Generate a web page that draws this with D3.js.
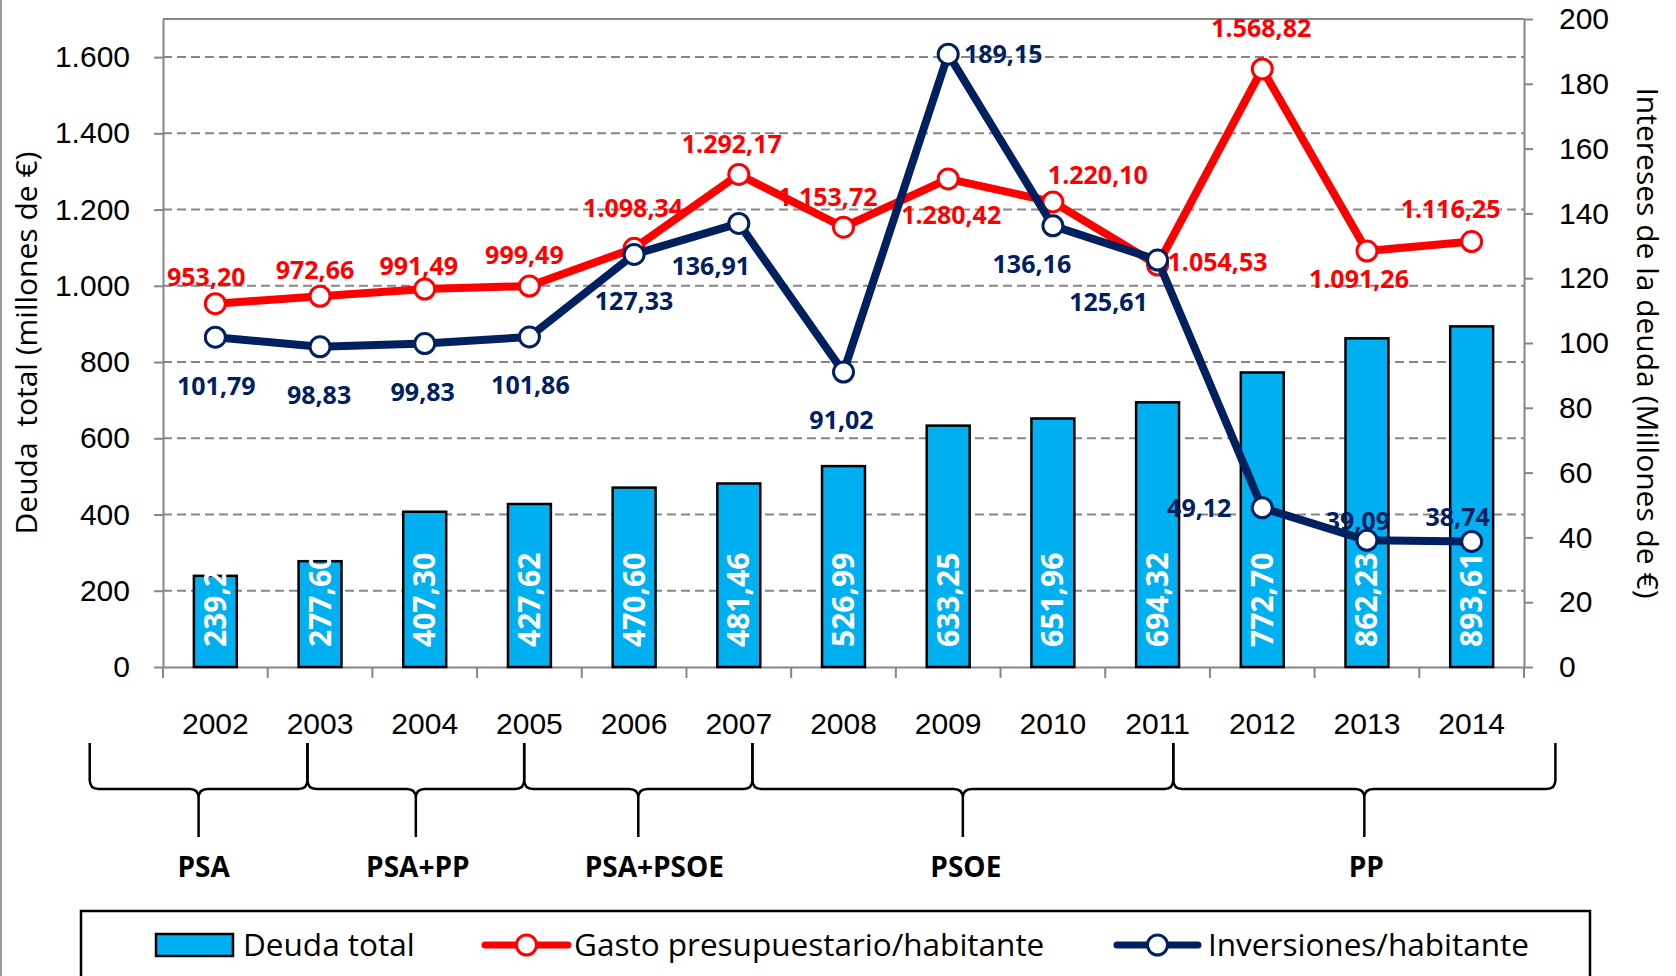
<!DOCTYPE html>
<html>
<head>
<meta charset="utf-8">
<script src="https://cdn.jsdelivr.net/npm/d3@7"></script>
<style>
    body { margin: 0; background: #fff; }
    svg { display: block; font-family: 'Open Sans', 'Noto Sans', sans-serif; }
</style>
</head>
<body>
<div class="chart"></div>
<script>
'use strict'

// Data.
const years = ['2002', '2003', '2004', '2005', '2006', '2007', '2008', '2009', '2010', '2011', '2012', '2013', '2014'];
const deudaTotal = [239.20, 277.60, 407.30, 427.62, 470.60, 481.46, 526.99, 633.25, 651.96, 694.32, 772.70, 862.23, 893.61];
const gastoHabitante = [953.20, 972.66, 991.49, 999.49, 1098.34, 1292.17, 1153.72, 1280.42, 1220.10, 1054.53, 1568.82, 1091.26, 1116.25];
const inversionesHabitante = [101.79, 98.83, 99.83, 101.86, 127.33, 136.91, 91.02, 189.15, 136.16, 125.61, 49.12, 39.09, 38.74];

const leftTicks = [0, 200, 400, 600, 800, 1000, 1200, 1400, 1600];
const rightTicks = [0, 20, 40, 60, 80, 100, 120, 140, 160, 180, 200];

// Governing parties and the (fractional) years each brace spans.
const parties = ['PSA', 'PSA+PP', 'PSA+PSOE', 'PSOE', 'PP'];
const partyFrom = [2000.8, 2002.88, 2004.95, 2007.13, 2011.15];
const partyTo = [2002.88, 2004.95, 2007.13, 2011.15, 2014.8];

// Label placement, px offset from each marker (hand placed in the original).
const gastoLabelOffset = [[-9, -27], [-5, -26], [-6, -23], [-5, -31], [-1, -40], [-7, -30], [-16, -30],
    [3, 36], [45, -27], [60, -3], [-1, -41], [-8, 28], [-21, -33]];
const invLabelOffset = [[1, 49], [-1, 48], [-2, 48], [1, 48], [0, 47], [-28, 43], [-2, 48],
    [55, 0], [-21, 38], [-49, 42], [-63, 0], [-9, -19], [-14, -24]];
const partyLabelShift = [5, 2, 16, 3, 2];

// Dimensions.
let width = 1676,
    height = 976,
    margin = {top: 19, right: 152, bottom: 309, left: 163};

const plotBottom = height - margin.bottom,
    plotRight = width - margin.right,
    grey = '#868686',
    red = '#ff0000',
    navy = '#002060',
    cyan = '#00b0f0';

const es = d3.formatLocale({decimal: ',', thousands: '.', grouping: [3], currency: ['', ' €']});
const fmtInt = es.format(',d'),
    fmt2 = es.format(',.2f');

let svg = d3.select('.chart')
    .append('svg')
        .attr('width', width)
        .attr('height', height);

// Scales.
let x = d3.scaleBand()
    .domain(years)
    .range([margin.left, plotRight]);
const xc = d => x(d) + x.bandwidth() / 2;

let yL = d3.scaleLinear()
    .domain([0, 1700])
    .range([plotBottom, margin.top]);

let yR = d3.scaleLinear()
    .domain([0, 200])
    .range([plotBottom, margin.top]);

let yearX = d3.scaleLinear()
    .domain([2002, 2014])
    .range([xc('2002'), xc('2014')]);

// Image border on the left.
svg.append('line')
    .attr('x1', 1).attr('x2', 1)
    .attr('y1', 0).attr('y2', height)
    .attr('stroke', '#9a9a9a')
    .attr('stroke-width', 2);

// Gridlines.
svg.append('g')
    .selectAll('line')
    .data(leftTicks.filter(d => d > 0))
    .join('line')
        .attr('x1', margin.left)
        .attr('x2', plotRight)
        .attr('y1', d => yL(d))
        .attr('y2', d => yL(d))
        .attr('stroke', grey)
        .attr('stroke-width', 2)
        .attr('stroke-dasharray', '9,5');

// Plot frame top.
svg.append('line')
    .attr('x1', margin.left).attr('x2', plotRight)
    .attr('y1', margin.top).attr('y2', margin.top)
    .attr('stroke', grey)
    .attr('stroke-width', 2);

// Axes.
svg.append('g')
    .attr('transform', `translate(${margin.left}, 0)`)
    .call(d3.axisLeft(yL).tickValues(leftTicks).tickFormat(fmtInt).tickSize(9).tickPadding(24).tickSizeOuter(0))
    .call(g => g.selectAll('line, path').attr('stroke', grey).attr('stroke-width', 2))
    .call(g => g.selectAll('text').attr('font-size', 30).attr('fill', '#000').attr('font-family', null));

svg.append('g')
    .attr('transform', `translate(${plotRight}, 0)`)
    .call(d3.axisRight(yR).tickValues(rightTicks).tickSize(9).tickPadding(26).tickSizeOuter(0))
    .call(g => g.selectAll('line, path').attr('stroke', grey).attr('stroke-width', 2))
    .call(g => g.selectAll('text').attr('font-size', 30).attr('fill', '#000').attr('font-family', null));

svg.append('g')
    .attr('transform', `translate(0, ${plotBottom})`)
    .call(d3.axisBottom(x).tickSize(0).tickPadding(46).tickSizeOuter(0))
    .call(g => g.select('.domain').attr('stroke', grey).attr('stroke-width', 2))
    .call(g => g.selectAll('text').attr('font-size', 30).attr('fill', '#000').attr('font-family', null));

// Category boundary ticks.
svg.append('g')
    .selectAll('line')
    .data(years.concat(['end']))
    .join('line')
        .attr('x1', (d, i) => margin.left + i * x.step())
        .attr('x2', (d, i) => margin.left + i * x.step())
        .attr('y1', plotBottom)
        .attr('y2', plotBottom + 11)
        .attr('stroke', grey)
        .attr('stroke-width', 2);

// Axis titles.
svg.append('text')
    .attr('transform', `translate(26, ${(margin.top + plotBottom) / 2}) rotate(-90)`)
    .attr('text-anchor', 'middle')
    .attr('dy', '0.35em')
    .attr('font-size', 30)
    .style('white-space', 'pre')
    .text('Deuda  total (millones de €)');

svg.append('text')
    .attr('transform', `translate(1647, ${(margin.top + plotBottom) / 2}) rotate(90)`)
    .attr('text-anchor', 'middle')
    .attr('dy', '0.33em')
    .attr('font-size', 30)
    .text('Intereses de la deuda (Millones de €)');

// Bars.
const barW = x.bandwidth() * 0.41;

svg.append('g')
    .selectAll('rect')
    .data(deudaTotal)
    .join('rect')
        .attr('x', (d, i) => xc(years[i]) - barW / 2)
        .attr('y', d => yL(d))
        .attr('width', barW)
        .attr('height', d => plotBottom - yL(d))
        .attr('fill', cyan)
        .attr('stroke', '#000')
        .attr('stroke-width', 2.5);

svg.append('g')
    .selectAll('text')
    .data(deudaTotal)
    .join('text')
        .attr('transform', (d, i) => `translate(${xc(years[i])}, ${plotBottom - 20}) rotate(-90)`)
        .attr('dy', '0.35em')
        .attr('font-size', 30)
        .attr('font-weight', 'bold')
        .attr('fill', '#fff')
        .text(d => fmt2(d));

// Lines.
function drawSeries(values, y, color) {
    let g = svg.append('g');

    g.append('path')
        .datum(values)
        .attr('fill', 'none')
        .attr('stroke', color)
        .attr('stroke-width', 8)
        .attr('stroke-linejoin', 'round')
        .attr('stroke-linecap', 'round')
        .attr('d', d3.line().x((d, i) => xc(years[i])).y(d => y(d)));

    g.selectAll('circle')
        .data(values)
        .join('circle')
            .attr('cx', (d, i) => xc(years[i]))
            .attr('cy', d => y(d))
            .attr('r', 10)
            .attr('fill', '#fff')
            .attr('stroke', color)
            .attr('stroke-width', 3);

    return g;
}

drawSeries(gastoHabitante, yL, red);
drawSeries(inversionesHabitante, yR, navy);

// Data labels on top.
function drawLabels(values, y, color, offsets) {
    svg.append('g')
        .selectAll('text')
        .data(values)
        .join('text')
            .attr('x', (d, i) => xc(years[i]) + offsets[i][0])
            .attr('y', (d, i) => y(d) + offsets[i][1])
            .attr('dy', '0.36em')
            .attr('text-anchor', 'middle')
            .attr('font-size', 25)
            .attr('font-weight', 'bold')
            .attr('fill', color)
            .text(d => fmt2(d));
}

drawLabels(gastoHabitante, yL, red, gastoLabelOffset);
drawLabels(inversionesHabitante, yR, navy, invLabelOffset);

// Braces for governing parties.
const braceTop = 743,
    braceMid = 789,
    braceTip = 837,
    r = 9;

function bracePath(x0, x1) {
    let m = (x0 + x1) / 2;
    return `M${x0},${braceTop} L${x0},${braceMid - r} Q${x0},${braceMid} ${x0 + r},${braceMid} ` +
        `L${m - r},${braceMid} Q${m},${braceMid} ${m},${braceMid + r} L${m},${braceTip} ` +
        `M${m},${braceMid + r} Q${m},${braceMid} ${m + r},${braceMid} ` +
        `L${x1 - r},${braceMid} Q${x1},${braceMid} ${x1},${braceMid - r} L${x1},${braceTop}`;
}

let braces = svg.append('g');

braces.selectAll('path')
    .data(parties)
    .join('path')
        .attr('d', (d, i) => bracePath(yearX(partyFrom[i]), yearX(partyTo[i])))
        .attr('fill', 'none')
        .attr('stroke', '#000')
        .attr('stroke-width', 2.5);

braces.selectAll('text')
    .data(parties)
    .join('text')
        .attr('x', (d, i) => (yearX(partyFrom[i]) + yearX(partyTo[i])) / 2 + partyLabelShift[i])
        .attr('y', 877)
        .attr('text-anchor', 'middle')
        .attr('font-size', 28)
        .attr('font-weight', 'bold')
        .text(d => d);

// Legend.
let legend = svg.append('g');

legend.append('rect')
    .attr('x', 81)
    .attr('y', 911)
    .attr('width', 1509)
    .attr('height', 120)
    .attr('fill', '#fff')
    .attr('stroke', '#000')
    .attr('stroke-width', 2.5);

const legendY = 945;

legend.append('rect')
    .attr('x', 156).attr('y', 934)
    .attr('width', 77).attr('height', 22)
    .attr('fill', cyan)
    .attr('stroke', '#000')
    .attr('stroke-width', 2.5);

let legendLines = [
    {x0: 485, x1: 568, color: red},
    {x0: 1117, x1: 1198, color: navy},
];

legendLines.forEach(l => {
    legend.append('line')
        .attr('x1', l.x0).attr('x2', l.x1)
        .attr('y1', legendY).attr('y2', legendY)
        .attr('stroke', l.color)
        .attr('stroke-width', 7)
        .attr('stroke-linecap', 'round');
    legend.append('circle')
        .attr('cx', (l.x0 + l.x1) / 2)
        .attr('cy', legendY)
        .attr('r', 10)
        .attr('fill', '#fff')
        .attr('stroke', l.color)
        .attr('stroke-width', 3);
});

legend.selectAll('text')
    .data([['Deuda total', 243], ['Gasto presupuestario/habitante', 574], ['Inversiones/habitante', 1208]])
    .join('text')
        .attr('x', d => d[1])
        .attr('y', legendY)
        .attr('dy', '0.35em')
        .attr('font-size', 31.5)
        .text(d => d[0]);
</script>
</body>
</html>
